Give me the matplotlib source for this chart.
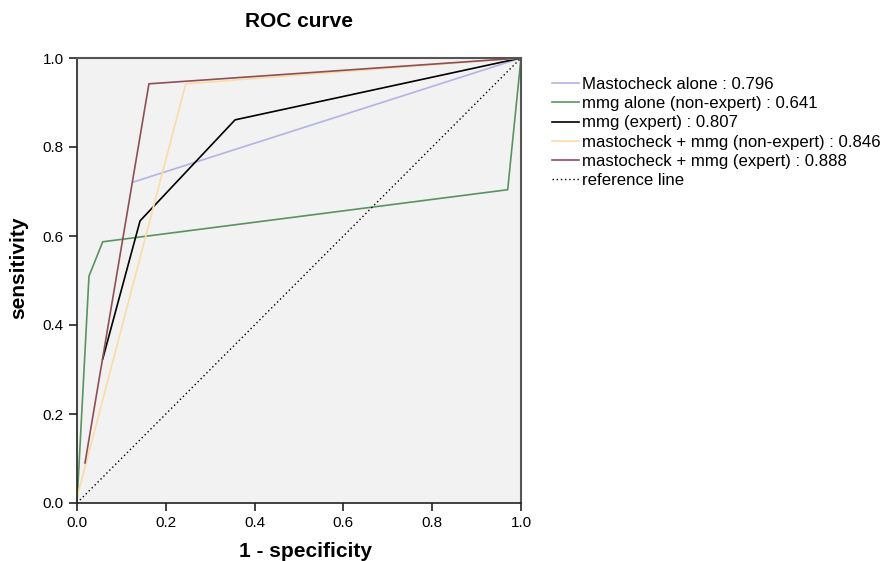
import matplotlib
matplotlib.use("Agg")
import matplotlib.pyplot as plt

plt.rcParams['font.family'] = ['Liberation Sans', 'DejaVu Sans']

# ROC curve points (1 - specificity, sensitivity)
masto_x = [0.126, 1.0]
masto_y = [0.721, 1.0]

mmg_ne_x = [0.0, 0.027, 0.058, 0.970, 1.0]
mmg_ne_y = [0.0, 0.510, 0.587, 0.704, 1.0]

mmg_ex_x = [0.058, 0.142, 0.356, 1.0]
mmg_ex_y = [0.324, 0.634, 0.861, 1.0]

combo_ne_x = [0.0, 0.245, 1.0]
combo_ne_y = [0.012, 0.942, 1.0]

combo_ex_x = [0.018, 0.162, 1.0]
combo_ex_y = [0.090, 0.942, 1.0]

ref_x = [0.0, 1.0]
ref_y = [0.0, 1.0]

labels = [
    "Mastocheck alone : 0.796",
    "mmg alone (non-expert) : 0.641",
    "mmg (expert) : 0.807",
    "mastocheck + mmg (non-expert) : 0.846",
    "mastocheck + mmg (expert) : 0.888",
    "reference line",
]
colors = ["#b3b3e6", "#5b9262", "#000000", "#fcdca6", "#8e4f57", "#000000"]
ticks = [0.0, 0.2, 0.4, 0.6, 0.8, 1.0]
tick_labels = ["0.0", "0.2", "0.4", "0.6", "0.8", "1.0"]

fig = plt.figure(figsize=(8.85, 5.61), dpi=100)
ax = fig.add_axes([77/885, 1 - 503/561, 444/885, 445/561])
ax.set_facecolor("#f2f2f2")

series = [(masto_x, masto_y), (mmg_ne_x, mmg_ne_y), (mmg_ex_x, mmg_ex_y),
          (combo_ne_x, combo_ne_y), (combo_ex_x, combo_ex_y)]
for (xs, ys), c, lab in zip(series, colors[:5], labels[:5]):
    ax.plot(xs, ys, color=c, lw=1.2, label=lab, clip_on=False)
ax.plot(ref_x, ref_y, color="black", lw=1.0, ls=(0, (1, 2)), label=labels[5])

ax.set_xlim(0, 1)
ax.set_ylim(0, 1)
ax.set_xticks(ticks)
ax.set_xticklabels(tick_labels)
ax.set_yticks(ticks)
ax.set_yticklabels(tick_labels)
ax.tick_params(axis="both", labelsize=11, length=6, width=1.2, direction="out", color="#222222")
for side in ["left", "bottom"]:
    ax.spines[side].set_color("#222222")
    ax.spines[side].set_linewidth(1.2)
for side in ["top", "right"]:
    ax.spines[side].set_color("#555555")
    ax.spines[side].set_linewidth(1.5)

ax.set_title("ROC curve", fontsize=15, fontweight="bold", pad=22)
ax.set_xlabel("1 - specificity", fontsize=15, fontweight="bold", va="center")
ax.xaxis.set_label_coords(0.514, -0.108)
ax.set_ylabel("sensitivity", fontsize=15, fontweight="bold", va="center")
ax.yaxis.set_label_coords(-0.132, 0.528)

leg = ax.legend(loc="upper left", bbox_to_anchor=(552/885, 1 - 77/561),
                bbox_transform=fig.transFigure, frameon=False, fontsize=12.1,
                handlelength=1.6, handletextpad=0.18, labelspacing=0.25,
                borderaxespad=0, borderpad=0)

fig.savefig("out.png", dpi=100)
